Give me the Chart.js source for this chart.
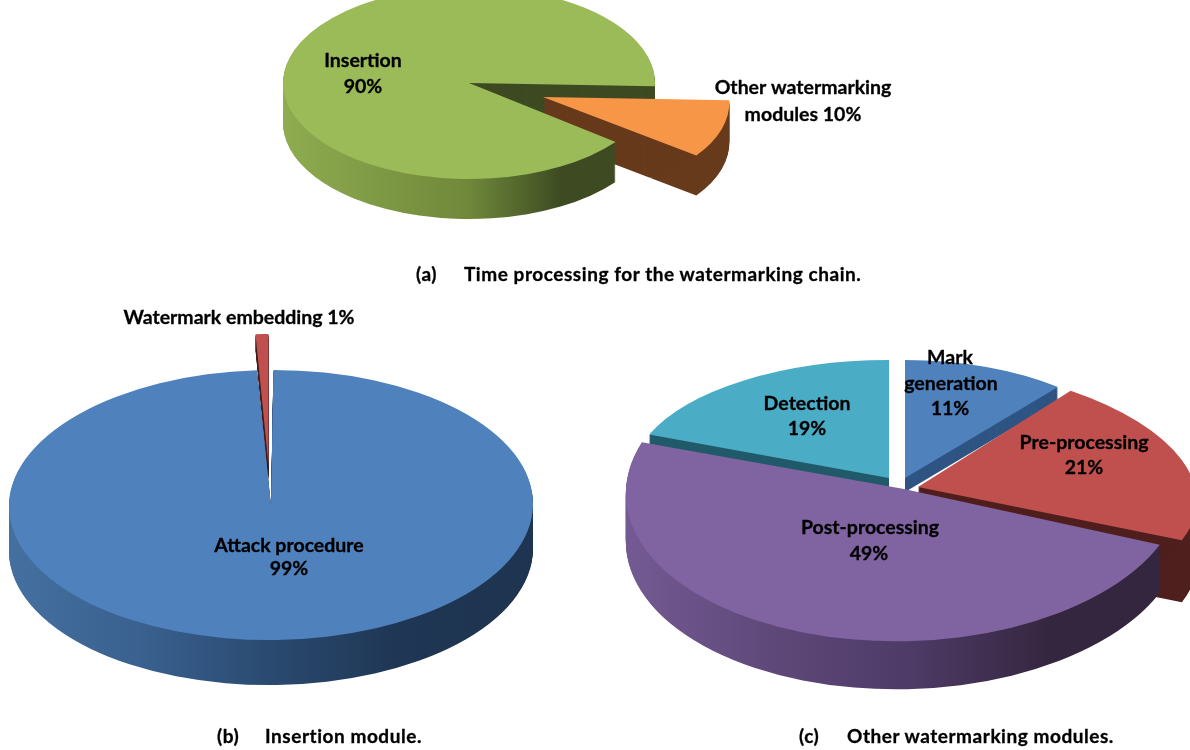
<!DOCTYPE html>
<html>
<head>
<meta charset="utf-8">
<script src="https://cdn.jsdelivr.net/npm/chart.js@4"></script>
<style>
  html, body { margin: 0; background: #fff; overflow: hidden; }
  #page { position: relative; width: 1190px; height: 750px; }
  canvas { position: absolute; left: 0; top: 0; }
  .cap { position: absolute; font: 700 19px Lato, sans-serif; letter-spacing: 0.55px; color: #000; white-space: nowrap; transform: translateY(-50%); -webkit-text-stroke: 0.3px #000; }
</style>
</head>
<body>
<div id="page">
  <canvas id="chartA" width="1190" height="750"></canvas>
  <canvas id="chartB" width="1190" height="750"></canvas>
  <canvas id="chartC" width="1190" height="750"></canvas>
  <div class="cap" style="left:416px;top:273px">(a)</div>
  <div class="cap" style="left:464px;top:273px">Time processing for the watermarking chain.</div>
  <div class="cap" style="left:217px;top:735px">(b)</div>
  <div class="cap" style="left:265px;top:735px">Insertion module.</div>
  <div class="cap" style="left:799px;top:735px">(c)</div>
  <div class="cap" style="left:847px;top:735px">Other watermarking modules.</div>
</div>
<script>
const chainNames = ["Insertion", "Other watermarking modules"];
const chainValues = [90, 10];
const insertNames = ["Attack procedure", "Watermark embedding"];
const insertValues = [99, 1];
const otherNames = ["Mark generation", "Pre-processing", "Post-processing", "Detection"];
const otherValues = [11, 21, 49, 19];

const labelFont = "700 19.5px Lato, sans-serif";

// draws one arc in its tilted plane: tip is where the point lands on the page,
// rx / ry squash the circle, lean and dip shear it (fakes the camera perspective)
function tilt(ctx, arc, s) {
  const R = arc.outerRadius;
  ctx.transform(s.rx / R, (s.dip || 0) / R, (s.lean || 0) / R, s.ry / R, s.tip[0], s.tip[1]);
  ctx.translate(-arc.x, -arc.y);
}

function paintArc(ctx, arc, fill) {
  const real = arc.options;
  arc.options = Object.create(real);
  arc.options.backgroundColor = fill;
  arc.draw(ctx);
  arc.options = real;
}

function stack(ctx, arc, s, fill) {
  for (let d = s.depth; d >= 1; d--) {
    ctx.save();
    ctx.translate(0, d);
    tilt(ctx, arc, s);
    paintArc(ctx, arc, fill);
    ctx.restore();
  }
}

function ellipsePath(ctx, arc, s) {
  ctx.save();
  tilt(ctx, arc, s);
  ctx.arc(arc.x, arc.y, arc.outerRadius, 0, Math.PI * 2);
  ctx.restore();
}

function wallGradient(ctx, arc, stops) {
  const g = ctx.createLinearGradient(arc.x - arc.outerRadius, 0, arc.x + arc.outerRadius, 0);
  stops.forEach((c, i) => g.addColorStop(i / (stops.length - 1), c));
  return g;
}

function makePie(id, names, values, colors, rotation, slices, labels) {
  new Chart(document.getElementById(id), {
    type: "pie",
    data: {
      labels: names,
      datasets: [{ data: values, backgroundColor: colors, borderWidth: 0 }]
    },
    options: {
      responsive: false,
      animation: false,
      events: [],
      rotation: rotation,
      plugins: { legend: { display: false }, tooltip: { enabled: false } }
    },
    plugins: [{
      id: "pie3d",
      beforeDatasetsDraw(chart) {
        const ctx = chart.ctx;
        const arcs = chart.getDatasetMeta(0).data;
        // cut faces, only where they fall inside the slice's own disc
        arcs.forEach((arc, i) => {
          ctx.save();
          ctx.beginPath();
          ellipsePath(ctx, arc, slices[i]);
          ctx.clip();
          stack(ctx, arc, slices[i], slices[i].cut);
          ctx.restore();
        });
        // rim, outside the disc
        arcs.forEach((arc, i) => {
          ctx.save();
          ctx.beginPath();
          ctx.rect(0, 0, chart.width, chart.height);
          ellipsePath(ctx, arc, slices[i]);
          ctx.clip("evenodd");
          stack(ctx, arc, slices[i], wallGradient(ctx, arc, slices[i].rim));
          ctx.restore();
        });
        arcs.forEach((arc, i) => {
          ctx.save();
          tilt(ctx, arc, slices[i]);
          arc.draw(ctx);
          ctx.restore();
        });
        return false;
      },
      afterDraw(chart) {
        const ctx = chart.ctx;
        ctx.save();
        ctx.font = labelFont;
        ctx.fillStyle = "#000";
        ctx.strokeStyle = "#000";
        ctx.lineWidth = 0.3;
        ctx.textAlign = "center";
        ctx.textBaseline = "middle";
        labels.forEach(l => {
          ctx.fillText(l[0], l[1], l[2]);
          ctx.strokeText(l[0], l[1], l[2]);
        });
        ctx.restore();
      }
    }]
  });
}

makePie("chartA", chainNames, chainValues, ["#9bbb59", "#f79646"], 128, [
  { tip: [469, 83], rx: 186, ry: 96, depth: 40, cut: "#3d4a22",
    rim: ["#8fac50", "#7f9a45", "#6f883a", "#3d4a22", "#3d4a22"] },
  { tip: [543, 97], rx: 186, ry: 95, lean: 11, depth: 40, cut: "#673a1c",
    rim: ["#673a1c", "#673a1c"] }
], [
  ["Insertion", 363, 61], [chainValues[0] + "%", 363, 87],
  ["Other watermarking", 803, 88], ["modules " + chainValues[1] + "%", 803, 115]
]);

makePie("chartB", insertNames, insertValues, ["#4f81bd", "#c0504d"], 0, [
  { tip: [271, 505], rx: 262, ry: 135, lean: -2.4, depth: 45, cut: "#2a4a70",
    rim: ["#44709f", "#3a6190", "#2a4a70", "#1f3654", "#1e3450"] },
  { tip: [268.5, 465], rx: 207, ry: 131, depth: 16, cut: "#3c1f20",
    rim: ["#3c1f20", "#3c1f20"] }
], [
  [insertNames[1] + " " + insertValues[1] + "%", 239, 318],
  [insertNames[0], 289, 546], [insertValues[0] + "%", 289, 569]
]);

makePie("chartC", otherNames, otherValues, ["#4f81bd", "#c0504d", "#8064a2", "#4bacc6"], 0, [
  { tip: [905, 478], rx: 240, ry: 118, depth: 14, cut: "#2f5583",
    rim: ["#2f5583", "#2f5583"] },
  { tip: [918, 487], rx: 277, ry: 125, lean: 31, depth: 62, cut: "#4f1f1d",
    rim: ["#4f1f1d", "#4f1f1d"] },
  { tip: [904, 489], rx: 278, ry: 152, lean: 10, dip: -10, depth: 48, cut: "#35263f",
    rim: ["#735a93", "#5e4879", "#4d3a66", "#35263f", "#33263f"] },
  { tip: [889, 478], rx: 258, ry: 118, depth: 14, cut: "#215a6a",
    rim: ["#215a6a", "#215a6a"] }
], [
  ["Mark", 950, 358], ["generation", 951, 384], [otherValues[0] + "%", 950, 409],
  ["Pre-processing", 1084, 443], [otherValues[1] + "%", 1084, 468],
  ["Post-processing", 870, 528], [otherValues[2] + "%", 869, 554],
  ["Detection", 807, 404], [otherValues[3] + "%", 807, 429]
]);
</script>
</body>
</html>
